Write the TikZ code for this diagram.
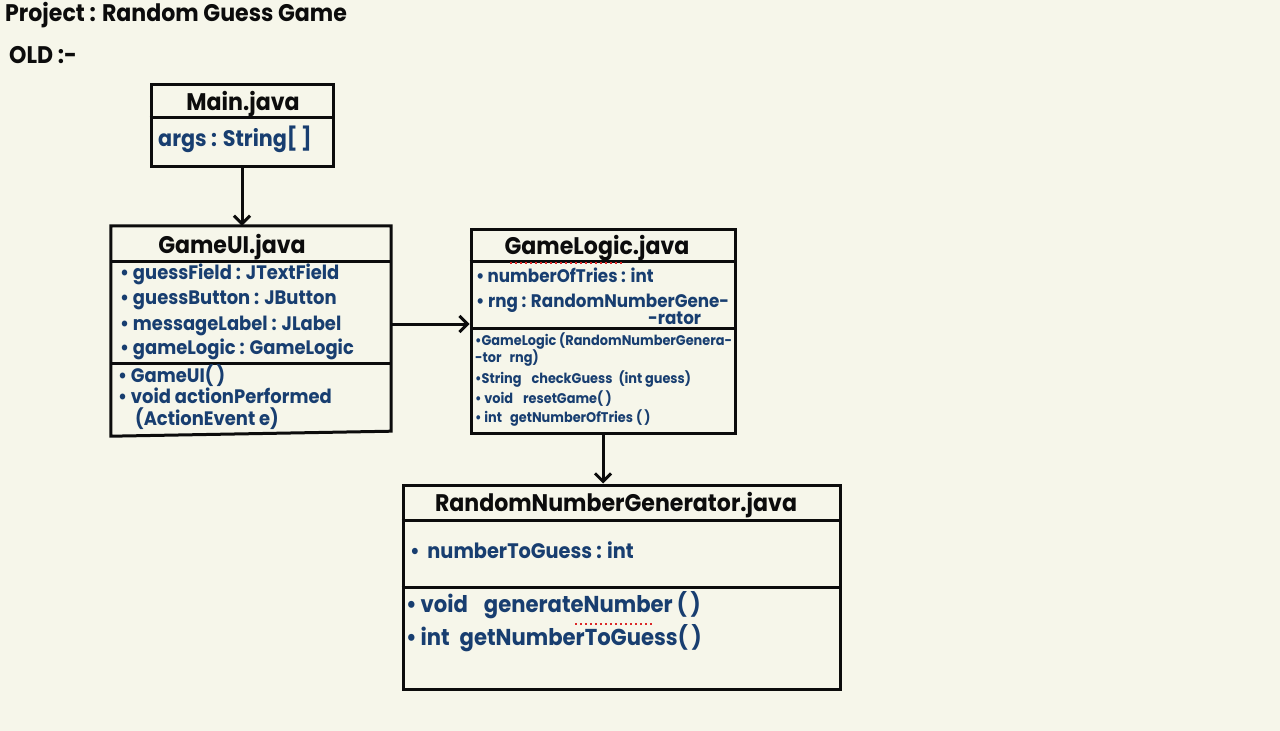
\documentclass[tikz,border=0pt]{standalone}
\usepackage{fontspec}
\setmainfont{Poppins}[FakeStretch=0.92]
\usetikzlibrary{arrows.meta}
\definecolor{bg}{RGB}{246,246,234}
\definecolor{ink}{RGB}{12,12,12}
\definecolor{blu}{RGB}{24,62,112}
\definecolor{redot}{RGB}{220,40,40}
\begin{document}
\begin{tikzpicture}[x=1pt,y=-1pt,
  box/.style={draw=ink,line width=3pt,fill=bg,inner sep=0pt},
  sep/.style={draw=ink,line width=3pt},
  conn/.style={draw=ink,line width=3pt,-{Straight Barb[length=8pt,width=16pt,line width=3pt]}},
  ttl/.style={anchor=base,text=ink,font=\bfseries\fontsize{24}{26}\selectfont,inner sep=0pt},
  txt/.style={anchor=base west,text=blu,inner sep=0pt},
  hdr/.style={anchor=base west,text=ink,font=\bfseries\fontsize{24}{26}\selectfont,inner sep=0pt},
  reddots/.style={draw=redot,line width=2pt,dash pattern=on 2pt off 3pt}
]
\fill[bg] (0,0) rectangle (1280,731);
\useasboundingbox (0,0) rectangle (1280,731);

% header
\node[hdr] (h1) at (5,21) {Project : Random Guess Game};
\node[hdr] (h2) at (9,63) {OLD :-};

% boxes
\node[box,minimum width=182pt,minimum height=82pt] (main) at (242,125) {};
\node[inner sep=0pt,minimum width=280pt,minimum height=208pt] (gameui) at (251,330) {};
\draw[box] (gameui.north west) -- (gameui.north east) -- ([yshift=3pt]gameui.south east) -- ([yshift=-2pt]gameui.south west) -- cycle;
\node[box,minimum width=264pt,minimum height=204pt] (gamelogic) at (603,331) {};
\node[box,minimum width=437pt,minimum height=204pt] (rng) at (621.5,587) {};

% dividers
\draw[sep] (main.west |- 0,117) -- (main.east |- 0,117);
\draw[sep] (gameui.west |- 0,261) -- (gameui.east |- 0,261);
\draw[sep] (gameui.west |- 0,363) -- (gameui.east |- 0,363);
\draw[sep] (gamelogic.west |- 0,261) -- (gamelogic.east |- 0,261);
\draw[sep] (gamelogic.west |- 0,328) -- (gamelogic.east |- 0,328);
\draw[sep] (rng.west |- 0,520) -- (rng.east |- 0,520);
\draw[sep] (rng.west |- 0,587) -- (rng.east |- 0,587);

% Main
\node[ttl] (mainT) at (243,110) {Main.java};
\node[txt,font=\bfseries\fontsize{22.5}{24}\selectfont] (mainA) at (158,146) {args : String[\,]};

% GameUI
\node[ttl] (guiT) at (232,253) {GameUI.java};
\begin{scope}[every node/.append style={font=\bfseries\fontsize{19.5}{21}\selectfont}]
\node[txt] (gu1) at (120,279) {\textbullet\ guessField : JTextField};
\node[txt] (gu2) at (120,304) {\textbullet\ guessButton : JButton};
\node[txt] (gu3) at (120,330) {\textbullet\ messageLabel : JLabel};
\node[txt] (gu4) at (120,354) {\textbullet\ gameLogic : GameLogic};
\node[txt] (gu5) at (118,382) {\textbullet\ GameUI(\,)};
\node[txt] (gu6) at (118,403) {\textbullet\ void actionPerformed};
\node[txt] (gu7) at (135,425) {(ActionEvent e)};
\end{scope}

% GameLogic
\node[ttl] (glT) at (597,254) {GameLogic.java};
\draw[reddots] (510,263) -- (622,263);
\begin{scope}[every node/.append style={font=\bfseries\fontsize{18.2}{20}\selectfont}]
\node[txt] (gl1) at (476,282) {\textbullet\,numberOfTries : int};
\node[txt] (gl2) at (476,307) {\textbullet\ rng : RandomNumberGene-};
\node[txt] (gl3) at (648,324) {-rator};
\end{scope}
\begin{scope}[every node/.append style={font=\bfseries\fontsize{14}{16}\selectfont}]
\node[txt] (gl4) at (475,345) {\textbullet GameLogic (RandomNumberGenera-};
\node[txt] (gl5) at (475,362) {-tor\hspace{8pt}rng)};
\node[txt] (gl6) at (475,383) {\textbullet String\hspace{10pt}checkGuess\hspace{6pt}(int guess)};
\node[txt] (gl7) at (475,403) {\textbullet\ void\hspace{10pt}resetGame(\,)};
\node[txt] (gl8) at (475,422) {\textbullet\ int\hspace{8pt}getNumberOfTries\hspace{3pt}(\,)};
\end{scope}

% RandomNumberGenerator
\node[ttl] (rngT) at (616,511) {RandomNumberGenerator.java};
\node[txt,font=\bfseries\fontsize{21}{23}\selectfont] (r1) at (410,558) {\textbullet\ \,numberToGuess : int};
\begin{scope}[every node/.append style={font=\bfseries\fontsize{23}{25}\selectfont}]
\node[txt] (r2) at (406,612) {\textbullet\,void\hspace{16pt}generateNumber\hspace{4pt}(\,)};
\node[txt] (r3) at (406,645) {\textbullet\,int\hspace{10pt}getNumberToGuess(\,)};
\end{scope}
\draw[reddots] (575,624) -- (652,624);

% connectors
\draw[conn] (main.south) -- (main.south |- gameui.north);
\draw[conn] ([yshift=6pt]gameui.east) -- ([yshift=6pt]gameui.east -| gamelogic.west);
\draw[conn] (gamelogic.south) -- (gamelogic.south |- rng.north);
\end{tikzpicture}
\end{document}
